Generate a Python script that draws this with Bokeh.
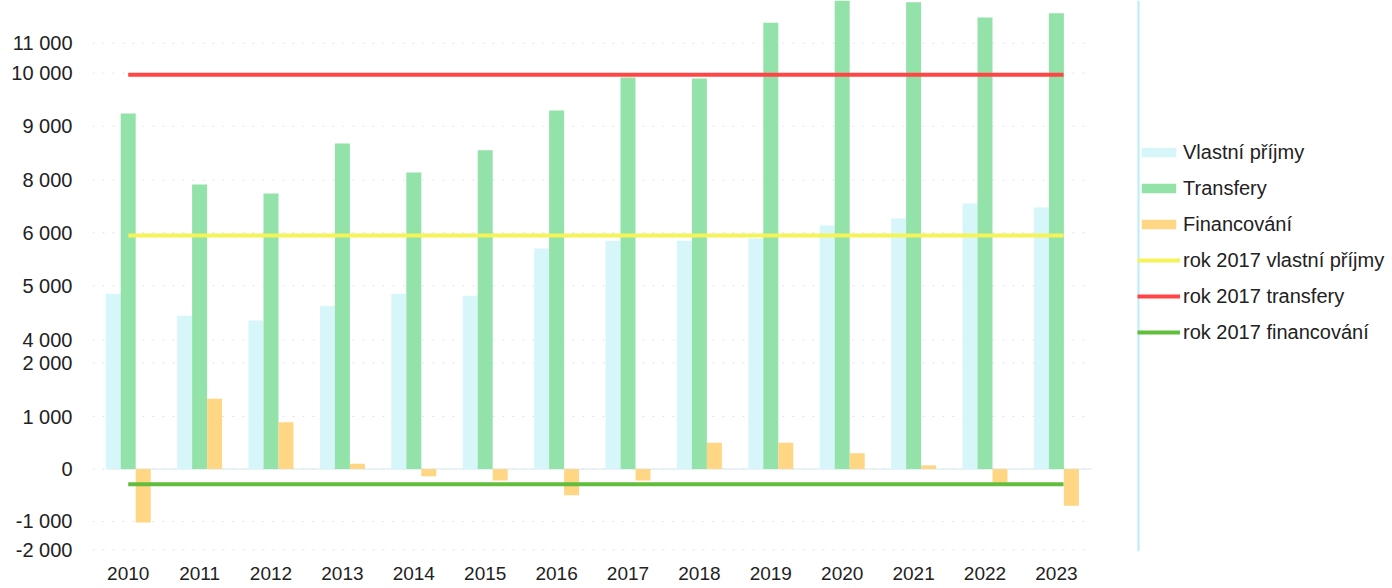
from bokeh.plotting import figure
from bokeh.models import (ColumnDataSource, Range1d, FixedTicker, Span, Legend, LegendItem)
from bokeh.transform import dodge
from bokeh.embed import file_html
from bokeh.resources import INLINE

# ---- data (linear units of the drawing; tick labels as printed) ----
years = ["2010", "2011", "2012", "2013", "2014", "2015", "2016",
         "2017", "2018", "2019", "2020", "2021", "2022", "2023"]
vlastni_prijmy = [3340, 2920, 2830, 3110, 3340, 3300, 4200,
                  4350, 4350, 4390, 4640, 4770, 5060, 4980]
transfery = [6770, 5420, 5250, 6200, 5650, 6070, 6830,
             7460, 7440, 8500, 9000, 8890, 8600, 8680]
financovani = [-1020, 1340, 890, 100, -140, -220, -500,
               -220, 500, 500, 300, 70, -260, -700]
ref_2017_vlastni = 4450
ref_2017_transfery = 7510
ref_2017_financovani = -290

ytick_values = [8110, 7540, 6530, 5500, 4500, 3490, 2460, 2020, 1000, 0, -1000, -1540]
ytick_labels = ["11 000", "10 000", "9 000", "8 000", "6 000", "5 000",
                "4 000", "2 000", "1 000", "0", "-1 000", "-2 000"]

legend_labels = ["Vlastní příjmy", "Transfery", "Financování",
                 "rok 2017 vlastní příjmy", "rok 2017 transfery", "rok 2017 financování"]

# ---- styling ----
FONT = "Liberation Sans"
TXT = "#222222"
C_VP = "#d6f6fa"
C_TR = "#92e2aa"
C_FI = "#ffd684"
C_LVP = "#f4f35a"
C_LTR = "#ff4545"
C_LFI = "#63bd3c"

idx = list(range(len(years)))
src = ColumnDataSource(dict(idx=idx, vp=vlastni_prijmy, tr=transfery, fi=financovani))

PX = 19.05          # value units per pixel
PPU = 71.4          # pixels per category
W_FIG, H_FIG = 1392, 588
LEFT = 92
BOTTOM = 37
frame_bottom = H_FIG - BOTTOM
zero_px = 468.5
x_end = -0.5 + (W_FIG - LEFT) / PPU

p = figure(width=W_FIG, height=H_FIG, output_backend="svg", toolbar_location=None,
           x_range=Range1d(-0.5, x_end),
           y_range=Range1d(-(frame_bottom - zero_px) * PX, zero_px * PX),
           min_border_left=LEFT, min_border_right=0, min_border_top=0,
           min_border_bottom=BOTTOM)
p.outline_line_color = None
p.background_fill_color = "white"
p.border_fill_color = "white"

# faint dotted grid over the category area only
g0, g1 = idx[0] - 0.5, idx[-1] + 0.5
p.segment(x0=g0, x1=g1, y0=ytick_values, y1=ytick_values,
          line_color="#e2e2e2", line_width=1, line_dash="2 8")
p.segment(x0=g0 + 0.2, x1=g1, y0=0, y1=0, line_color="#d4e6ee", line_width=1)

W = 0.21
r_vp = p.vbar(x=dodge("idx", -W, range=None), top="vp", bottom=0, width=W, source=src,
              fill_color=C_VP, line_color=None)
r_tr = p.vbar(x="idx", top="tr", bottom=0, width=W, source=src,
              fill_color=C_TR, line_color=None)
r_fi = p.vbar(x=dodge("idx", W, range=None), top="fi", bottom=0, width=W, source=src,
              fill_color=C_FI, line_color=None)

x_ends = [idx[0], idx[-1] + 0.1]
r_lvp = p.line(x=x_ends, y=[ref_2017_vlastni] * 2, line_color=C_LVP, line_width=4)
r_ltr = p.line(x=x_ends, y=[ref_2017_transfery] * 2, line_color=C_LTR, line_width=4)
r_lfi = p.line(x=x_ends, y=[ref_2017_financovani] * 2, line_color=C_LFI, line_width=4)

vline = Span(location=14.15, dimension="height", line_color="#b8eef2", line_width=2)
p.add_layout(vline)

# axes
p.xaxis.ticker = FixedTicker(ticks=idx)
p.xaxis.major_label_overrides = {i: y for i, y in zip(idx, years)}
p.yaxis.ticker = FixedTicker(ticks=ytick_values)
p.yaxis.major_label_overrides = {v: l for v, l in zip(ytick_values, ytick_labels)}
for ax in (p.xaxis[0], p.yaxis[0]):
    ax.axis_line_color = None
    ax.major_tick_line_color = None
    ax.minor_tick_line_color = None
    ax.major_tick_out = 0
    ax.major_tick_in = 0
    ax.major_label_text_font = FONT
    ax.major_label_text_color = TXT
p.xaxis.major_label_text_font_size = "19px"
p.yaxis.major_label_text_font_size = "20px"
p.xaxis.major_label_standoff = 15
p.yaxis.major_label_standoff = 20

p.xgrid.grid_line_color = None
p.ygrid.grid_line_color = None

renderers = [r_vp, r_tr, r_fi, r_lvp, r_ltr, r_lfi]
items = [LegendItem(label=l, renderers=[r]) for l, r in zip(legend_labels, renderers)]
legend_top = 140
legend_h = 6 * 24 + 5 * 12
legend = Legend(items=items, location=(1137 - LEFT, frame_bottom - legend_top - legend_h),
                orientation="vertical",
                glyph_width=43, glyph_height=12, label_height=24, spacing=12,
                label_standoff=3, padding=0, margin=0,
                border_line_color=None, background_fill_alpha=0,
                label_text_font=FONT, label_text_font_size="20px", label_text_color=TXT)
p.add_layout(legend, "center")

open("out.html", "w").write(file_html(p, INLINE))
